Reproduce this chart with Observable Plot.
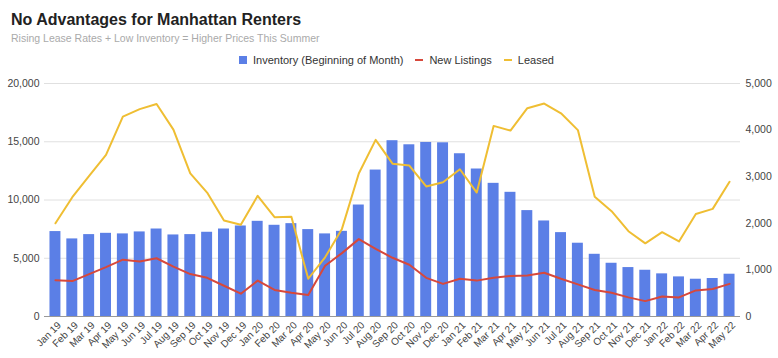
<!DOCTYPE html>
<html><head><meta charset="utf-8">
<script src="https://cdn.jsdelivr.net/npm/d3@7"></script>
<script src="https://cdn.jsdelivr.net/npm/@observablehq/plot@0.6"></script>
<style>
body{margin:0;background:#fff;font-family:Arial,"Liberation Sans",sans-serif;}
#wrap{position:relative;width:778px;height:358px;overflow:hidden;}
#title{position:absolute;left:11px;top:11px;font-size:16px;font-weight:bold;color:#222;white-space:nowrap;}
#sub{position:absolute;left:11px;top:32px;font-size:10.5px;color:#aaa;white-space:nowrap;}
#legend{position:absolute;left:239px;top:54px;font-size:11px;color:#333;display:flex;align-items:center;white-space:nowrap;}
#legend .it{display:flex;align-items:center;margin-right:12px;}
#legend .sq{width:8px;height:8px;margin-right:6px;}
#legend .ln{width:8px;height:2px;margin-right:6px;}
#chart{position:absolute;left:0;top:70px;}
</style></head>
<body><div id="wrap">
<div id="title">No Advantages for Manhattan Renters</div>
<div id="sub">Rising Lease Rates + Low Inventory = Higher Prices This Summer</div>
<div id="legend">
<div class="it"><div class="sq" style="background:#5b7fe6"></div>Inventory (Beginning of Month)</div>
<div class="it"><div class="ln" style="background:#d7483b"></div>New Listings</div>
<div class="it"><div class="ln" style="background:#efbe33"></div>Leased</div>
</div>
<div id="chart"></div>
</div>
<script>
const months = ["Jan 19","Feb 19","Mar 19","Apr 19","May 19","Jun 19","Jul 19","Aug 19","Sep 19","Oct 19","Nov 19","Dec 19",
"Jan 20","Feb 20","Mar 20","Apr 20","May 20","Jun 20","Jul 20","Aug 20","Sep 20","Oct 20","Nov 20","Dec 20",
"Jan 21","Feb 21","Mar 21","Apr 21","May 21","Jun 21","Jul 21","Aug 21","Sep 21","Oct 21","Nov 21","Dec 21",
"Jan 22","Feb 22","Mar 22","Apr 22","May 22"];
const inventory = [7290,6660,7030,7140,7090,7260,7510,7000,7030,7230,7510,7770,
8170,7830,7970,7460,7090,7310,9570,12570,15090,14740,14940,14910,
13970,12660,11430,10660,9090,8200,7200,6290,5340,4570,4200,3970,
3660,3400,3200,3260,3630];
const newListings = [780,760,910,1060,1220,1180,1250,1070,910,830,660,490,
770,570,510,460,1090,1360,1660,1450,1260,1110,830,700,
810,770,830,870,880,940,810,690,570,510,410,330,
430,410,560,590,700];
const leased = [2000,2560,3020,3470,4290,4450,4560,4010,3070,2660,2060,1970,
2590,2130,2140,810,1270,1880,3070,3790,3280,3240,2790,2880,
3160,2660,4090,3990,4470,4570,4360,4000,2570,2260,1830,1570,
1810,1610,2200,2310,2890];
const leftTicks = [0,5000,10000,15000,20000];
const rightTicks = [0,1000,2000,3000,4000,5000];
const ratio = 20000/5000;

const data = months.map((m,i)=>({month:m, inventory:inventory[i], newListings:newListings[i], leased:leased[i]}));
const fmt = d3.format(",");
const chart = Plot.plot({
  width:778, height:288, marginTop:13, marginBottom:42, marginLeft:44, marginRight:38,
  style:{fontFamily:'Arial,"Liberation Sans",sans-serif', fontSize:"10.5px", color:"#444", background:"#fff"},
  x:{domain:months, paddingInner:0.35, paddingOuter:0.325, label:null},
  y:{domain:[0,20000], label:null},
  marks:[
    Plot.gridY(leftTicks.slice(1),{stroke:"#e0e0e0", strokeOpacity:1}),
    Plot.barY(data,{x:"month", y:"inventory", fill:"#5b7fe6"}),
    Plot.ruleY([0],{stroke:"#999"}),
    Plot.lineY(data,{x:"month", y:d=>d.newListings*ratio, stroke:"#d7483b", strokeWidth:2}),
    Plot.lineY(data,{x:"month", y:d=>d.leased*ratio, stroke:"#efbe33", strokeWidth:2}),
    Plot.axisY(leftTicks,{anchor:"left", tickSize:0, tickPadding:5, tickFormat:fmt, label:null}),
    Plot.axisY(rightTicks.map(v=>v*ratio),{anchor:"right", tickSize:0, tickPadding:5, tickFormat:d=>fmt(d/ratio), label:null}),
    Plot.axisX({tickRotate:-45, tickSize:0, tickPadding:5, fontSize:10, dx:4, dy:2, label:null})
  ]
});
document.getElementById("chart").appendChild(chart);
</script>
</body></html>
